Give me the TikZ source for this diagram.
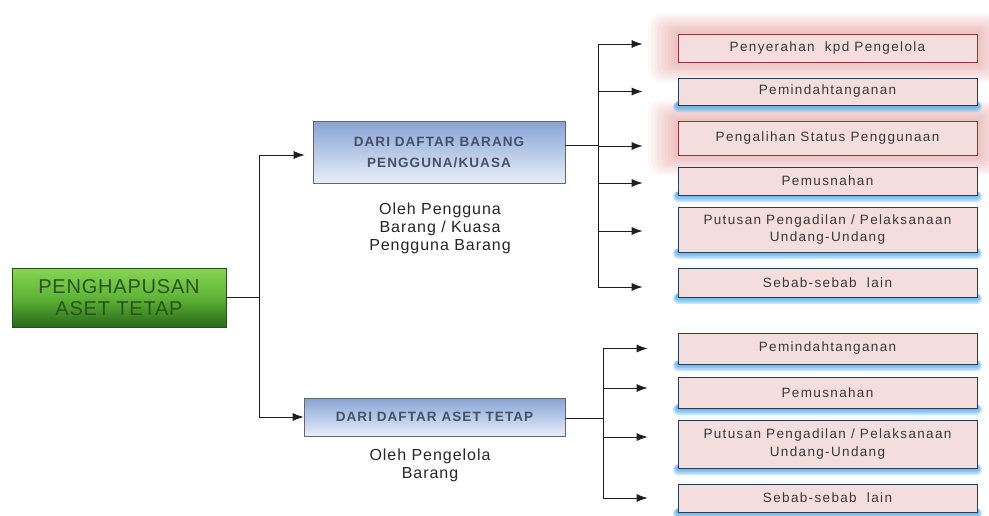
\documentclass[tikz,border=0pt]{standalone}
\usepackage{fontspec}
\setmainfont{Liberation Sans}
\usetikzlibrary{arrows.meta,calc}
\pgfdeclarelayer{bg}
\pgfsetlayers{bg,main}
\definecolor{pinkfill}{RGB}{244,221,221}
\definecolor{redborder}{RGB}{150,55,55}
\definecolor{blueborder}{RGB}{45,60,85}
\definecolor{glowred}{RGB}{200,60,60}
\definecolor{shadowblue}{RGB}{40,150,235}
\definecolor{greentop}{RGB}{135,212,85}
\definecolor{greenmid}{RGB}{95,180,55}
\definecolor{greenbot}{RGB}{40,105,25}
\definecolor{greentext}{RGB}{40,85,30}
\definecolor{bluetop}{RGB}{135,163,212}
\definecolor{bluebot}{RGB}{232,238,249}
\definecolor{bluetext}{RGB}{70,80,105}
\definecolor{boxtext}{RGB}{60,55,55}
\definecolor{lnc}{RGB}{30,30,30}
\begin{document}
\begin{tikzpicture}[x=1pt,y=-1pt,
  rootbox/.style={draw=greenbot!80!black, line width=0.6pt, top color=greentop, bottom color=greenbot, middle color=greenmid,
    minimum width=214pt, minimum height=59pt, inner sep=0pt, align=center, text=greentext,
    font=\addfontfeatures{LetterSpace=4}\fontsize{20}{22}\selectfont},
  midbox/.style={draw=black!60, line width=0.6pt, top color=bluetop, bottom color=bluebot,
    inner sep=0pt, align=center, text=bluetext,
    font=\bfseries\addfontfeatures{LetterSpace=8}\fontsize{13.5}{21}\selectfont},
  leaf/.style={fill=pinkfill, line width=0.8pt, minimum width=299pt, inner sep=0pt, align=center, text=boxtext,
    font=\addfontfeatures{LetterSpace=10}\fontsize{13.5}{17.5}\selectfont},
  redleaf/.style={leaf, draw=redborder},
  blueleaf/.style={leaf, draw=blueborder},
  captxt/.style={align=center, inner sep=0pt, text=black!85,
    font=\addfontfeatures{LetterSpace=6}\fontsize{16}{18}\selectfont},
  ln/.style={draw=lnc, line width=0.8pt},
  arr/.style={ln, -{Latex[length=11pt,width=8pt]}}
]
\useasboundingbox (0,0) rectangle (989,515);

% main nodes
\node[rootbox] (root) at (119,297.5) {PENGHAPUSAN\\ASET TETAP};
\node[midbox, minimum width=252pt, minimum height=62pt] (b1) at (439,152) {DARI DAFTAR BARANG\\PENGGUNA/KUASA};
\node[midbox, minimum width=261pt, minimum height=38pt] (b2) at (434.5,417) {DARI DAFTAR ASET TETAP};
\node[captxt] (cap1) at (440,228) {Oleh Pengguna\\Barang / Kuasa\\Pengguna Barang};
\node[captxt] (cap2) at (430,465) {Oleh Pengelola\\Barang};

% top group
\node[redleaf,  minimum height=28pt] (t1) at (827.5,48)    {Penyerahan\ \ kpd Pengelola};
\node[blueleaf, minimum height=27pt] (t2) at (827.5,91.5)  {Pemindahtanganan};
\node[redleaf,  minimum height=34pt] (t3) at (827.5,138)   {Pengalihan Status Penggunaan};
\node[blueleaf, minimum height=28pt] (t4) at (827.5,181)   {Pemusnahan};
\node[blueleaf, minimum height=45pt] (t5) at (827.5,229.5) {Putusan Pengadilan / Pelaksanaan\\Undang-Undang};
\node[blueleaf, minimum height=29pt] (t6) at (827.5,282.5) {Sebab-sebab\ \ lain};

% bottom group
\node[blueleaf, minimum height=31pt] (u1) at (827.5,348.5) {Pemindahtanganan};
\node[blueleaf, minimum height=31pt] (u2) at (827.5,392.5) {Pemusnahan};
\node[blueleaf, minimum height=48pt] (u3) at (827.5,444)   {Putusan Pengadilan / Pelaksanaan\\Undang-Undang};
\node[blueleaf, minimum height=28pt] (u4) at (827.5,498)   {Sebab-sebab\ \ lain};

% glows and shadows
\begin{pgfonlayer}{bg}
  \foreach \n in {t1,t3} {
    \foreach \i in {1,...,9} {
      \fill[glowred, opacity=0.04, rounded corners=1.5*\i]
        ($(\n.north west)+(-3.3*\i,-2.2*\i)$) rectangle ($(\n.south east)+(3*\i,2.2*\i)$);
    }
  }
  \foreach \n in {t2,t4,t5,t6,u1,u2,u3,u4} {
    \foreach \i in {1,...,4} {
      \fill[shadowblue, opacity=0.24, rounded corners=1.5*\i]
        ($(\n.south west)+(-1.2*\i,-4)$) rectangle ($(\n.south east)+(1.2*\i,1.7*\i)$);
    }
  }
\end{pgfonlayer}

% junction x positions
\coordinate (jL) at (259,0);
\coordinate (jR) at (598,0);
\coordinate (jS) at (603,0);

% left tree
\draw[ln] (root.east) -- (root.east -| jL);
\draw[ln] ([yshift=-3pt]b1.west -| jL) -- (b2.west -| jL);
\draw[arr, shorten >=8pt] ([yshift=-3pt]b1.west -| jL) -- ([yshift=-3pt]b1.west);
\draw[arr] (b2.west -| jL) -- (b2.west);

% upper right tree
\draw[ln] ([yshift=7pt]b1.east) -- ([yshift=7pt]b1.east -| jR);
\draw[ln] ([yshift=4pt]t1.west -| jR) -- ([yshift=-4.5pt]t6.west -| jR);
\draw[arr, shorten >=35pt] ([yshift=4pt]t1.west -| jR) -- ([yshift=4pt]t1.west);
\draw[arr, shorten >=35pt] (t2.west -| jR) -- (t2.west);
\draw[arr, shorten >=35pt] ([yshift=-8pt]t3.west -| jR) -- ([yshift=-8pt]t3.west);
\draw[arr, shorten >=35pt] ([yshift=-2pt]t4.west -| jR) -- ([yshift=-2pt]t4.west);
\draw[arr, shorten >=35pt] ([yshift=-1.5pt]t5.west -| jR) -- ([yshift=-1.5pt]t5.west);
\draw[arr, shorten >=35pt] ([yshift=-4.5pt]t6.west -| jR) -- ([yshift=-4.5pt]t6.west);

% lower right tree
\draw[ln] ([yshift=-1pt]b2.east) -- ([yshift=-1pt]b2.east -| jS);
\draw[ln] (u1.west -| jS) -- (u4.west -| jS);
\draw[arr, shorten >=30pt] (u1.west -| jS) -- (u1.west);
\draw[arr, shorten >=30pt] ([yshift=4.5pt]u2.west -| jS) -- ([yshift=4.5pt]u2.west);
\draw[arr, shorten >=30pt] ([yshift=7pt]u3.west -| jS) -- ([yshift=7pt]u3.west);
\draw[arr, shorten >=30pt] (u4.west -| jS) -- (u4.west);
\end{tikzpicture}
\end{document}
